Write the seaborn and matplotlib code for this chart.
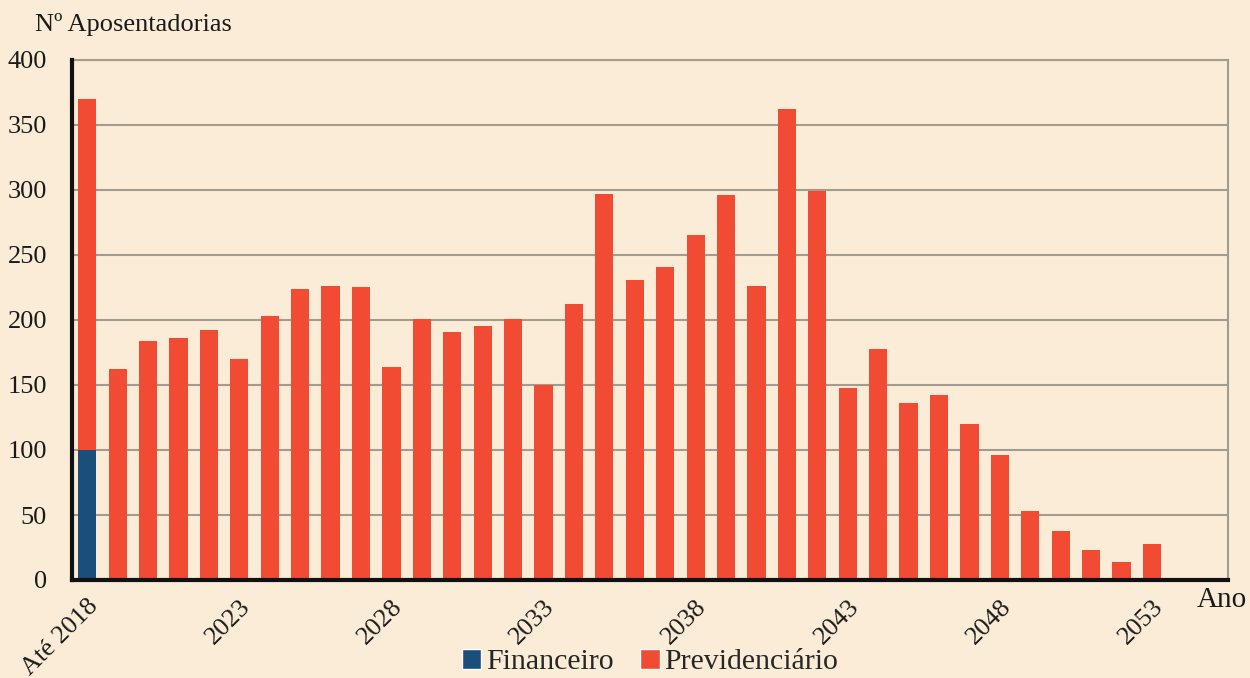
import matplotlib
matplotlib.use("Agg")
import matplotlib.pyplot as plt
import seaborn as sns
import pandas as pd
from matplotlib.patches import Patch

categories = ["Até 2018"] + [str(y) for y in range(2019, 2056)]
financeiro = [100] + [0] * 37
previdenciario = [270, 162, 184, 186, 192, 170, 203, 224, 226, 225,
                  164, 201, 191, 195, 201, 150, 212, 297, 231, 241,
                  265, 296, 226, 362, 299, 148, 178, 136, 142, 120,
                  96, 53, 38, 23, 14, 28, 0, 0]
y_ticks = [0, 50, 100, 150, 200, 250, 300, 350, 400]
label_every = 5

BG = "#FAECD6"
ORANGE = "#F24B33"
BLUE = "#1C4E7C"
TXT = "#1a1a1a"

sns.set_theme(style="white")
plt.rcParams["font.family"] = ["Liberation Serif", "DejaVu Serif"]

df = pd.DataFrame({"cat": categories,
                   "fin": financeiro,
                   "total": [f + p for f, p in zip(financeiro, previdenciario)]})

fig = plt.figure(figsize=(12.5, 6.78), dpi=100, facecolor=BG)
ax = fig.add_axes([72 / 1250, 1 - 580 / 678, (1228 - 72) / 1250, (580 - 60) / 678])
ax.set_facecolor(BG)

sns.barplot(data=df, x="cat", y="total", color=ORANGE, width=0.6,
            saturation=1, ax=ax, zorder=3, linewidth=0, edgecolor="none")
sns.barplot(data=df, x="cat", y="fin", color=BLUE, width=0.6,
            saturation=1, ax=ax, zorder=4, linewidth=0, edgecolor="none")

ax.set_xlim(-0.5, len(categories) - 0.5)
ax.set_ylim(0, 400)
ax.set_yticks(y_ticks)
ax.set_yticklabels([str(v) for v in y_ticks], fontsize=19, color=TXT)
ax.yaxis.grid(True, color="#a19b90", linewidth=1.5, zorder=0)
ax.set_axisbelow(True)

idx = list(range(0, len(categories), label_every))
ax.set_xticks(idx)
ax.set_xticklabels([categories[i] for i in idx], rotation=45, ha="right",
                   rotation_mode="anchor", fontsize=19, color=TXT)
ax.tick_params(axis="x", which="major", length=0, pad=11)
ax.set_xticks([i - 0.5 for i in idx], minor=True)
ax.tick_params(axis="x", which="minor", length=6, width=2.5, color="#111111", direction="out")
ax.tick_params(axis="y", length=6, width=2.5, color="#111111", direction="out", pad=12)

ax.set_xlabel("")
ax.set_ylabel("")
for s in ["left", "bottom"]:
    ax.spines[s].set_color("#111111")
    ax.spines[s].set_linewidth(3)
    ax.spines[s].set_zorder(5)
for s in ["top", "right"]:
    ax.spines[s].set_color("#a19b90")
    ax.spines[s].set_linewidth(1.5)

fig.text(35 / 1250, 1 - 25 / 678, "Nº Aposentadorias", fontsize=19,
         color=TXT, va="center", ha="left")
fig.text(1197 / 1250, 1 - 600 / 678, "Ano", fontsize=21,
         color=TXT, va="center", ha="left")

handles = [Patch(facecolor=BLUE, label="Financeiro"),
           Patch(facecolor=ORANGE, label="Previdenciário")]
fig.legend(handles=handles, loc="center", bbox_to_anchor=(650 / 1250, 1 - 662 / 678),
           ncol=2, frameon=False, fontsize=21.5, handlelength=0.65, handleheight=0.65,
           handletextpad=0.15, columnspacing=0.9, borderpad=0)

fig.savefig("out.png", dpi=100, facecolor=BG)
